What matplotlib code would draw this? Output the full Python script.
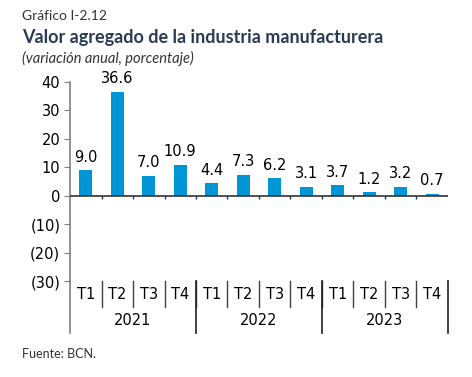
import numpy as np
import matplotlib.pyplot as plt
import matplotlib.transforms as mtransforms

# datos
quarters = ["T1", "T2", "T3", "T4"] * 3
years = ["2021", "2022", "2023"]
values = [9.0, 36.6, 7.0, 10.9, 4.4, 7.3, 6.2, 3.1, 3.7, 1.2, 3.2, 0.7]
yticks = [-30, -20, -10, 0, 10, 20, 30, 40]

bar_color = "#0096d6"
title_color = "#2b3a55"

fig = plt.figure(figsize=(4.72, 3.77), dpi=100)
ax = fig.add_axes([70 / 472, 1 - 281 / 377, (448 - 70) / 472, (281 - 82) / 377])

x = np.arange(len(values))
ax.bar(x, values, width=0.4, color=bar_color, zorder=2)
for xi, v in zip(x, values):
    ax.annotate("%.1f" % v, (xi, v), xytext=(0, 4), textcoords="offset points",
                ha="center", va="bottom", fontsize=10.5, color="black")

ax.set_xlim(-0.5, len(values) - 0.5)
ax.set_ylim(-30, 40)
ax.set_yticks(yticks)
ax.set_yticklabels([("(%d)" % -t) if t < 0 else str(t) for t in yticks], fontsize=10.5)
ax.tick_params(axis="y", length=4, color="#808080", pad=3)
ax.set_xticks([])
for s in ["top", "right", "bottom"]:
    ax.spines[s].set_visible(False)
ax.spines["left"].set_color("#808080")
ax.spines["left"].set_linewidth(1.2)

# linea del cero y marcas entre trimestres
ax.axhline(0, color="#333333", lw=1.2, zorder=3)
bounds = np.arange(0.5, len(values) - 0.5, 1.0)
ax.vlines(bounds, -1.3, 0, color="#333333", lw=1.0, zorder=3)

# eje categorico de dos niveles
trans = mtransforms.blended_transform_factory(ax.transData, ax.transAxes)
q_low = -26 / 199
y_low = -52 / 199
for i, q in enumerate(quarters):
    ax.text(i, -0.5 * 26 / 199 - 0.005, q, transform=trans, ha="center", va="center", fontsize=10.5)
for b in bounds:
    ax.plot([b, b], [0, q_low], transform=trans, color="#404040", lw=1.0, clip_on=False)
for j, yr in enumerate(years):
    ax.text(4 * j + 1.5, (q_low + y_low) / 2 - 0.005, yr, transform=trans,
            ha="center", va="center", fontsize=10.5)
for b in [-0.5, 3.5, 7.5, 11.5]:
    col = "#808080" if b == -0.5 else "#202020"
    ax.plot([b, b], [0, y_low], transform=trans, color=col, lw=1.2, clip_on=False)

# textos
fig.text(22 / 472, 1 - 16 / 377, "Gráfico I-2.12", fontsize=10, color="#333333",
         family="Lato", va="center")
fig.text(22 / 472, 1 - 37 / 377, "Valor agregado de la industria manufacturera",
         fontsize=13, color=title_color, family="Lato", weight="bold", va="center")
fig.text(22 / 472, 1 - 58 / 377, "(variación anual, porcentaje)", fontsize=10.5,
         color="#333333", family="Lato", style="italic", va="center")
fig.text(22 / 472, 1 - 354 / 377, "Fuente: BCN.", fontsize=9, color="#333333",
         family="Lato", va="center")

fig.savefig("out.png", dpi=100)
